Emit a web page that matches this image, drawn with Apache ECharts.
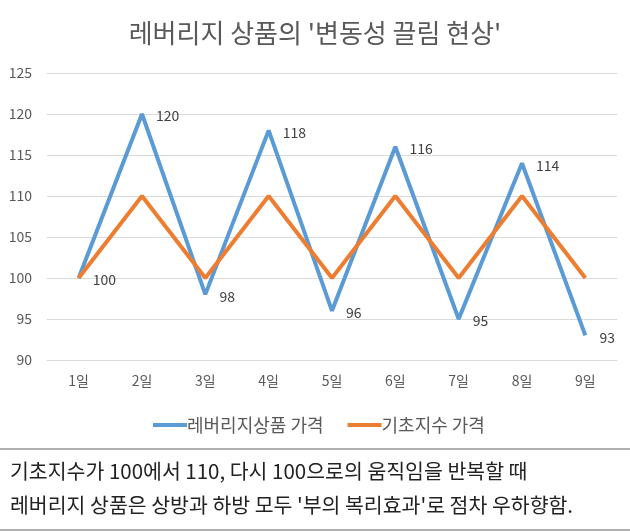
<!DOCTYPE html>
<html><head><meta charset="utf-8">
<script src="https://cdn.jsdelivr.net/npm/echarts@6/dist/echarts.min.js"></script>
<style>html,body{margin:0;padding:0;background:#fff}#c{width:630px;height:531px}</style>
</head><body><div id="c"></div>
<script>
const categories = ['1일','2일','3일','4일','5일','6일','7일','8일','9일'];
const leveragedName = '레버리지상품 가격';
const leveraged = [100,120,98,118,96,116,95,114,93];
const indexName = '기초지수 가격';
const indexValues = [100,110,100,110,100,110,100,110,100];
const yTicks = {min:90, max:125, interval:5};
const titleText = "레버리지 상품의 '변동성 끌림 현상'";
const noteLines = ['기초지수가 100에서 110, 다시 100으로의 움직임을 반복할 때',
  "레버리지 상품은 상방과 하방 모두 '부의 복리효과'로 점차 우하향함."];

const font = '"Noto Sans CJK KR", "Noto Sans", sans-serif';
const chart = echarts.init(document.getElementById('c'), null, {renderer:'canvas'});
chart.setOption({
  animation:false,
  textStyle:{fontFamily:font},
  title:{text:titleText,left:'center',top:15,textStyle:{fontSize:26,fontWeight:'normal',color:'#595959',fontFamily:font}},
  legend:{top:411,left:148,itemWidth:34,itemHeight:4,itemGap:24,icon:'rect',
    textStyle:{fontSize:18,color:'#595959',fontFamily:font,padding:[0,0,0,-5]},
    data:[leveragedName,indexName]},
  grid:{left:47,right:13,top:73,bottom:171},
  xAxis:{type:'category',data:categories,boundaryGap:true,
    axisLine:{lineStyle:{color:'#d9d9d9',width:1}},axisTick:{show:false},
    axisLabel:{fontSize:14,color:'#595959',margin:14}},
  yAxis:{type:'value',min:yTicks.min,max:yTicks.max,interval:yTicks.interval,
    axisLine:{show:false},axisTick:{show:false},
    splitLine:{lineStyle:{color:'#d9d9d9',width:1}},
    axisLabel:{fontSize:14,color:'#595959',margin:15}},
  series:[
    {name:leveragedName,type:'line',data:leveraged,symbol:'circle',symbolSize:0.1,showSymbol:true,z:3,
      lineStyle:{color:'#5b9bd5',width:4},itemStyle:{color:'#5b9bd5'},
      label:{show:true,position:'right',distance:14,fontSize:14,color:'#404040',offset:[0,2]}},
    {name:indexName,type:'line',data:indexValues,symbol:'none',z:4,
      lineStyle:{color:'#ed7d31',width:4},itemStyle:{color:'#ed7d31'}}
  ],
  graphic:[
    {type:'rect',shape:{x:0,y:448,width:630,height:2},style:{fill:'#b0b0b0'}},
    {type:'rect',shape:{x:0,y:529,width:630,height:2},style:{fill:'#b0b0b0'}},
    {type:'text',left:10,top:461,style:{text:noteLines[0],fontSize:20.5,fill:'#222',fontFamily:font}},
    {type:'text',left:10,top:495,style:{text:noteLines[1],fontSize:20.5,fill:'#222',fontFamily:font}}
  ]
});
</script></body></html>
